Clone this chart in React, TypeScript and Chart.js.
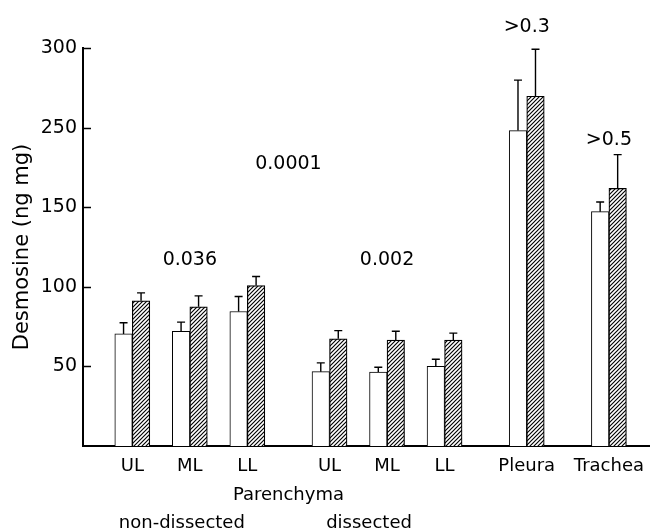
import React, { useEffect, useRef } from "react";
import { Chart, registerables } from "chart.js";

Chart.register(...registerables);

// ---- data (values in plotted axis units; the axis labels are broken above 150) ----
const categories = ["UL", "ML", "LL", "UL", "ML", "LL", "Pleura", "Trachea"];
const openValues = [70.4, 72.1, 84.5, 46.7, 46.5, 50.1, 198.1, 147.2];
const openErrors = [7.0, 5.7, 9.4, 5.5, 3.0, 4.4, 31.7, 6.1];
const hatchedValues = [91.2, 87.4, 100.8, 67.3, 66.5, 66.5, 219.7, 161.8];
const hatchedErrors = [5.0, 6.9, 5.7, 5.2, 5.6, 4.4, 29.5, 21.2];
const tickValues = [50, 100, 150, 200, 250];
const tickLabels = ["50", "100", "150", "250", "300"];
const pLabels = ["0.036", "0.002", "0.0001", ">0.3", ">0.5"];
const pAnchorCats = [[1], [4], [1, 4], [6], [7]];
const pAnchorValues = [117, 117, 177, 263, 192];
const groupLabels = ["Parenchyma", "non-dissected", "dissected"];

// ---- layout of category slots (spacing between bar pairs) ----
const leadSlots = 6;
const slotSteps = [7, 7, 10, 7, 7, 10, 10];
const trailSlots = 5;

const slotIndex: number[] = [];
{
  let pos = leadSlots;
  categories.forEach((_, i) => {
    if (i > 0) pos += slotSteps[i - 1];
    slotIndex.push(pos);
  });
}
const totalSlots = slotIndex[slotIndex.length - 1] + trailSlots + 1;
const slotLabels: string[] = Array.from({ length: totalSlots }, () => "");
const openSlots: (number | null)[] = Array.from({ length: totalSlots }, () => null);
const hatchedSlots: (number | null)[] = Array.from({ length: totalSlots }, () => null);
slotIndex.forEach((s, i) => {
  slotLabels[s] = categories[i];
  openSlots[s] = openValues[i];
  hatchedSlots[s] = hatchedValues[i];
});

const FONT = "DejaVu Sans";

function makeHatch(): CanvasPattern | string {
  const c = document.createElement("canvas");
  const n = 4;
  c.width = n;
  c.height = n;
  const g = c.getContext("2d");
  if (!g) return "#888";
  g.fillStyle = "#fff";
  g.fillRect(0, 0, n, n);
  g.strokeStyle = "#000";
  g.lineWidth = 1.15;
  g.beginPath();
  g.moveTo(-1, n + 1);
  g.lineTo(n + 1, -1);
  g.moveTo(-1, 1);
  g.lineTo(1, -1);
  g.moveTo(n - 1, n + 1);
  g.lineTo(n + 1, n - 1);
  g.stroke();
  const p = g.createPattern(c, "repeat");
  return p || "#888";
}

const overlayPlugin = {
  id: "overlay",
  afterDatasetsDraw(chart: any) {
    const ctx = chart.ctx as CanvasRenderingContext2D;
    const x = chart.scales.x;
    const y = chart.scales.y;
    ctx.save();
    // error bars (upper only)
    const errs = [openErrors, hatchedErrors];
    const vals = [openValues, hatchedValues];
    [0, 1].forEach((d) => {
      const meta = chart.getDatasetMeta(d);
      categories.forEach((_, i) => {
        const el = meta.data[slotIndex[i]];
        if (!el) return;
        const px = el.x;
        const y0 = y.getPixelForValue(vals[d][i]);
        const y1 = y.getPixelForValue(vals[d][i] + errs[d][i]);
        ctx.strokeStyle = "#000";
        ctx.lineWidth = 1.4;
        ctx.beginPath();
        ctx.moveTo(px, y0);
        ctx.lineTo(px, y1);
        ctx.moveTo(px - 4, y1);
        ctx.lineTo(px + 4, y1);
        ctx.stroke();
      });
    });
    // inward y tick marks
    ctx.lineWidth = 1.5;
    tickValues.forEach((v) => {
      const py = Math.round(y.getPixelForValue(v)) + 0.5;
      ctx.beginPath();
      ctx.moveTo(x.left, py);
      ctx.lineTo(x.left + 8, py);
      ctx.stroke();
    });
    // p-value annotations
    ctx.fillStyle = "#000";
    ctx.font = `19px "${FONT}"`;
    ctx.textAlign = "center";
    ctx.textBaseline = "middle";
    pLabels.forEach((t, k) => {
      const cats = pAnchorCats[k];
      const px =
        cats.reduce((a, c) => a + x.getPixelForValue(slotIndex[c]), 0) / cats.length;
      const py = y.getPixelForValue(pAnchorValues[k]);
      ctx.fillText(t, px, py);
    });
    // group labels under axis
    ctx.font = `18px "${FONT}"`;
    ctx.textBaseline = "alphabetic";
    const base = y.getPixelForValue(0);
    const parX =
      (x.getPixelForValue(slotIndex[0]) + x.getPixelForValue(slotIndex[5])) / 2;
    ctx.fillText(groupLabels[0], parX, base + 54);
    ctx.fillText(groupLabels[1], x.getPixelForValue(slotIndex[1]) - 8, base + 82);
    ctx.fillText(groupLabels[2], x.getPixelForValue(slotIndex[4]) - 18, base + 82);
    ctx.restore();
  },
};

export default function App() {
  const ref = useRef<HTMLCanvasElement | null>(null);
  useEffect(() => {
    if (!ref.current) return;
    Chart.defaults.font.family = FONT;
    Chart.defaults.color = "#000";
    const chart = new Chart(ref.current, {
      type: "bar",
      data: {
        labels: slotLabels,
        datasets: [
          {
            label: "open",
            data: openSlots,
            backgroundColor: "#fff",
            borderColor: "#000",
            borderWidth: 1,
            barThickness: 17.5,
          },
          {
            label: "hatched",
            data: hatchedSlots,
            backgroundColor: makeHatch() as any,
            borderColor: "#000",
            borderWidth: 1.2,
            barThickness: 17.5,
          },
        ],
      },
      options: {
        animation: false,
        responsive: false,
        maintainAspectRatio: false,
        layout: { padding: { top: 48, right: 0, left: 0, bottom: 0 } },
        plugins: { legend: { display: false }, tooltip: { enabled: false } },
        scales: {
          x: {
            type: "category",
            offset: false,
            grid: { display: false, drawTicks: true, tickLength: 10 },
            border: { display: true, color: "#000", width: 2 },
            ticks: {
              autoSkip: false,
              maxRotation: 0,
              minRotation: 0,
              color: "#000",
              padding: 0,
              font: { family: FONT, size: 18 },
            },
            afterFit: (s: any) => {
              s.height = 84;
            },
          },
          y: {
            min: 0,
            max: 250,
            grid: { display: false, drawTicks: false },
            border: { display: true, color: "#000", width: 2 },
            ticks: {
              stepSize: 50,
              padding: 6,
              color: "#000",
              font: { family: FONT, size: 19 },
              callback: (v: any) => {
                const i = tickValues.indexOf(Number(v));
                return i >= 0 ? tickLabels[i] : "";
              },
            },
            title: {
              display: true,
              text: "Desmosine (ng mg)",
              color: "#000",
              font: { family: FONT, size: 21 },
              padding: { top: 10, bottom: 0 },
            },
            afterFit: (s: any) => {
              s.width = 83;
            },
          },
        },
      },
      plugins: [overlayPlugin],
    });
    return () => chart.destroy();
  }, []);
  return (
    <div
      style={{
        position: "fixed",
        left: 0,
        top: 0,
        width: 650,
        height: 530,
        background: "#fff",
      }}
    >
      <canvas ref={ref} width={650} height={530} style={{ display: "block" }} />
    </div>
  );
}
